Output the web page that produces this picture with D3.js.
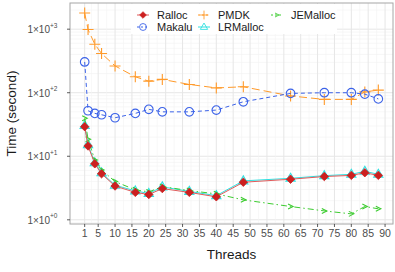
<!DOCTYPE html>
<html>
<head>
<meta charset="utf-8">
<script src="https://cdn.jsdelivr.net/npm/d3@7"></script>
<style>
body { margin: 0; background: #fff; }
text { font-family: "Liberation Sans", "DejaVu Sans", sans-serif; }
</style>
</head>
<body>
<svg id="chart"></svg>
<script>
var width = 395;
var height = 272;

var threads = [1, 2, 4, 6, 10, 16, 20, 24, 32, 40, 48, 62, 72, 80, 84, 88];
var ralloc = [29.2, 14.5, 7.6, 5.3, 3.4, 2.7, 2.5, 3.1, 2.7, 2.3, 3.9, 4.35, 4.8, 5.0, 5.5, 5.0];
var lrmalloc = [30.5, 15.2, 7.9, 5.5, 3.5, 2.85, 2.6, 3.3, 2.8, 2.4, 4.1, 4.5, 4.95, 5.2, 5.8, 5.2];
var makalu = [305, 52, 47.3, 45, 40.4, 47.3, 54.7, 50, 50, 53.3, 72, 97.5, 100, 100, 95, 80];
var pmdk = [1796, 986, 580, 414, 264, 178, 152, 162, 135, 119, 124, 89, 78.5, 78.5, 103, 110];
var jemalloc = [39.5, 18.5, 8.75, 6.1, 4.0, 2.96, 2.75, 3.33, 2.88, 2.56, 2.06, 1.62, 1.38, 1.24, 1.62, 1.49];
var xTicks = [1, 5, 10, 15, 20, 25, 30, 35, 40, 45, 50, 55, 60, 65, 70, 75, 80, 85, 90];
var yTicks = [1, 10, 100, 1000];
var yTickExp = ['+0', '+1', '+2', '+3'];

var margin = {top: 3, right: 2, bottom: 48, left: 70};
var pw = width - margin.left - margin.right;
var ph = height - margin.top - margin.bottom;

var svg = d3.select('#chart').attr('width', width).attr('height', height);
var g = svg.append('g').attr('transform', 'translate(' + margin.left + ',' + margin.top + ')');

var x = d3.scaleLinear().domain([-3.35, 92.35]).range([0, pw]);
var y = d3.scaleLog().domain([Math.pow(10, -0.066), Math.pow(10, 3.412)]).range([ph, 0]);

// grid
var minorY = [];
[0.1, 1, 10, 100, 1000].forEach(function(d) {
  for (var k = 2; k <= 9; k++) {
    var v = d * k;
    if (v > y.domain()[0] && v < y.domain()[1]) minorY.push(v);
  }
});
g.selectAll('.gy-minor').data(minorY).enter().append('line')
  .attr('x1', 0).attr('x2', pw)
  .attr('y1', function(d) { return y(d); }).attr('y2', function(d) { return y(d); })
  .attr('stroke', '#f2f2f2').attr('stroke-width', 0.6);
g.selectAll('.gy').data(yTicks).enter().append('line')
  .attr('x1', 0).attr('x2', pw)
  .attr('y1', function(d) { return y(d); }).attr('y2', function(d) { return y(d); })
  .attr('stroke', '#e6e6e6').attr('stroke-width', 1);
var minorX = [];
for (var i = 0; i < xTicks.length - 1; i++) minorX.push((xTicks[i] + xTicks[i + 1]) / 2);
g.selectAll('.gx-minor').data(minorX).enter().append('line')
  .attr('y1', 0).attr('y2', ph)
  .attr('x1', function(d) { return x(d); }).attr('x2', function(d) { return x(d); })
  .attr('stroke', '#f4f4f4').attr('stroke-width', 0.6);
g.selectAll('.gx').data(xTicks).enter().append('line')
  .attr('y1', 0).attr('y2', ph)
  .attr('x1', function(d) { return x(d); }).attr('x2', function(d) { return x(d); })
  .attr('stroke', '#e6e6e6').attr('stroke-width', 1);

// series
var series = [
  {name: 'LRMalloc', values: lrmalloc, color: '#2fe0e0', dash: null, shape: 'triangle'},
  {name: 'JEMalloc', values: jemalloc, color: '#3ccc30', dash: '6,3,1.5,3', shape: 'chevron'},
  {name: 'PMDK', values: pmdk, color: '#ff9a2a', dash: '8,4', shape: 'plus'},
  {name: 'Makalu', values: makalu, color: '#3b62e8', dash: '4,3', shape: 'circle'},
  {name: 'Ralloc', values: ralloc, color: '#cc2020', line: '#e05a5a', dash: null, shape: 'diamond'}
];

function drawShape(sel, shape, color) {
  if (shape === 'diamond') {
    sel.append('path').attr('d', 'M0,-4.2L4.2,0L0,4.2L-4.2,0Z').attr('fill', color).attr('stroke', color).attr('stroke-width', 0.8);
  } else if (shape === 'circle') {
    sel.append('circle').attr('r', 4.3).attr('fill', 'none').attr('stroke', color).attr('stroke-width', 1.1);
  } else if (shape === 'plus') {
    sel.append('path').attr('d', 'M-5.5,0H5.5M0,-5.5V5.5').attr('fill', 'none').attr('stroke', color).attr('stroke-width', 1.1);
  } else if (shape === 'triangle') {
    sel.append('path').attr('d', 'M0,-5L4.6,3L-4.6,3Z').attr('fill', 'none').attr('stroke', color).attr('stroke-width', 1.1);
  } else if (shape === 'chevron') {
    sel.append('path').attr('d', 'M-2.5,-2.5L2.5,0L-2.5,2.5').attr('fill', 'none').attr('stroke', color).attr('stroke-width', 1.1);
  }
}

var line = d3.line()
  .x(function(d, i) { return x(threads[i]); })
  .y(function(d) { return y(d); });

series.forEach(function(s) {
  g.append('path').datum(s.values)
    .attr('d', line)
    .attr('fill', 'none')
    .attr('stroke', s.line || s.color)
    .attr('stroke-width', 1)
    .attr('stroke-dasharray', s.dash);
  s.values.forEach(function(v, i) {
    var m = g.append('g').attr('transform', 'translate(' + x(threads[i]) + ',' + y(v) + ')');
    drawShape(m, s.shape, s.color);
  });
});

// panel border
g.append('rect').attr('width', pw).attr('height', ph)
  .attr('fill', 'none').attr('stroke', '#a6a6a6').attr('stroke-width', 1);

// x axis
var xa = g.append('g').attr('transform', 'translate(0,' + ph + ')');
xa.selectAll('line').data(xTicks).enter().append('line')
  .attr('x1', function(d) { return x(d); }).attr('x2', function(d) { return x(d); })
  .attr('y1', 0).attr('y2', 3).attr('stroke', '#333').attr('stroke-width', 0.8);
xa.selectAll('text').data(xTicks).enter().append('text')
  .attr('x', function(d) { return x(d); }).attr('y', 13)
  .attr('text-anchor', 'middle').attr('font-size', 10.5).attr('fill', '#4d4d4d')
  .text(function(d) { return d; });

// y axis
var ya = g.append('g');
ya.selectAll('line').data(yTicks).enter().append('line')
  .attr('x1', -3).attr('x2', 0)
  .attr('y1', function(d) { return y(d); }).attr('y2', function(d) { return y(d); })
  .attr('stroke', '#333').attr('stroke-width', 0.8);
ya.selectAll('.base').data(yTicks).enter().append('text')
  .attr('x', -20).attr('y', function(d) { return y(d) + 4; })
  .attr('text-anchor', 'end').attr('font-size', 10).attr('fill', '#4d4d4d')
  .text('1\u00d710');
ya.selectAll('.exp').data(yTicks).enter().append('text')
  .attr('x', -20).attr('y', function(d) { return y(d) - 1.5; })
  .attr('font-size', 6.5).attr('fill', '#4d4d4d')
  .text(function(d, i) { return yTickExp[i]; });

// axis titles
svg.append('text').attr('x', margin.left + pw / 2).attr('y', 259)
  .attr('text-anchor', 'middle').attr('font-size', 13.5).attr('fill', '#1a1a1a').text('Threads');
svg.append('text').attr('transform', 'translate(16,' + (margin.top + ph / 2) + ') rotate(-90)')
  .attr('text-anchor', 'middle').attr('font-size', 13.5).attr('fill', '#1a1a1a').text('Time (second)');

// legend
var legendItems = [
  {name: 'Ralloc', col: 0, row: 0},
  {name: 'Makalu', col: 0, row: 1},
  {name: 'PMDK', col: 1, row: 0},
  {name: 'LRMalloc', col: 1, row: 1},
  {name: 'JEMalloc', col: 2, row: 0}
];
var colX = [143, 204, 277];
svg.append('rect').attr('x', 131).attr('y', 4).attr('width', 206).attr('height', 30).attr('fill', '#fff');
legendItems.forEach(function(it) {
  var s = series.filter(function(d) { return d.name === it.name; })[0];
  var lg = svg.append('g').attr('transform', 'translate(' + colX[it.col] + ',' + (15 + it.row * 12) + ')');
  lg.append('line').attr('x1', -6).attr('x2', 6).attr('stroke', s.line || s.color).attr('stroke-width', 1)
    .attr('stroke-dasharray', s.dash ? '2,2' : null);
  var mk = lg.append('g').attr('transform', 'scale(0.8)');
  drawShape(mk, s.shape, s.color);
  lg.append('text').attr('x', 14).attr('y', 4).attr('font-size', 11).attr('fill', '#1a1a1a').text(s.name);
});
</script>
</body>
</html>
